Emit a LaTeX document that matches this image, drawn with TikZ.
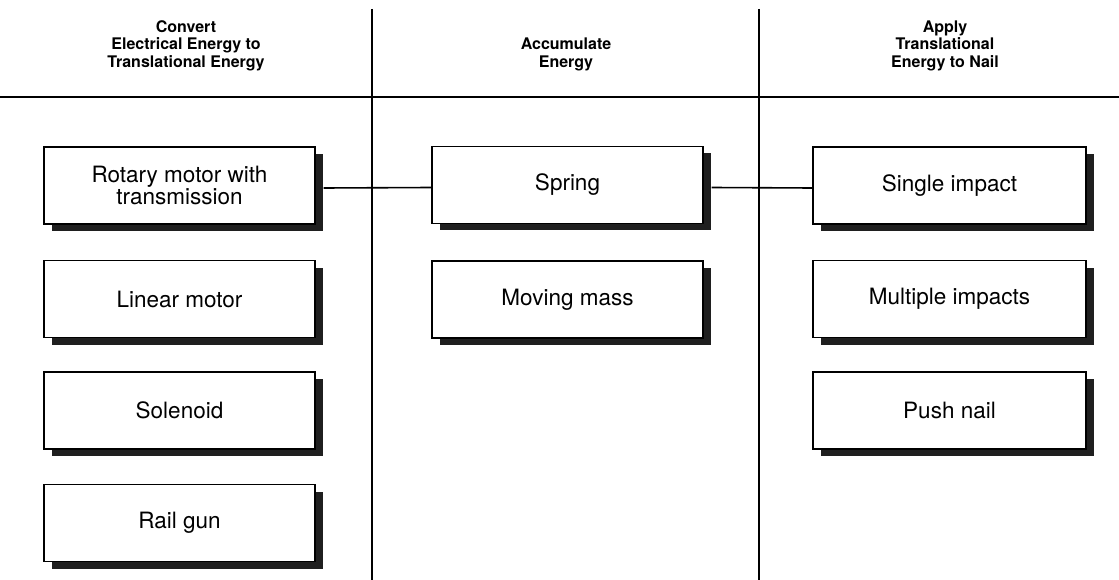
\documentclass[tikz,border=0pt]{standalone}
\usepackage{fontspec}
\setmainfont{TeX Gyre Heros}
\usetikzlibrary{shadows}
\begin{document}
\begin{tikzpicture}[x=1pt,y=-1pt,
  rule/.style={line width=1.3pt,black},
  hdr/.style={font=\bfseries\fontsize{16}{17.5}\selectfont,align=center,anchor=south,inner sep=0pt},
  pbox/.style={draw,line width=1.3pt,fill=white,rectangle,inner sep=0pt,minimum width=271pt,
    minimum height=77pt,align=center,font=\fontsize{22.5}{22}\selectfont,
    general shadow={fill=black!88,shadow xshift=8pt,shadow yshift=-7pt}},
  conn/.style={line width=1.6pt,black}]
\useasboundingbox (0,0) rectangle (1119,580);
% rules
\draw[rule] (0,97) -- (1119,97);
\draw[rule] (372,9) -- (372,580);
\draw[rule] (759,9) -- (759,580);
% headers
\node[hdr] (h1) at (186,71) {Convert\\Electrical Energy to\\Translational Energy};
\node[hdr] (h2) at (566,71) {Accumulate\\Energy};
\node[hdr] (h3) at (945,71) {Apply\\Translational\\Energy to Nail};
% column 1
\node[pbox] (rot) at (179.5,185.5) {Rotary motor with\\transmission};
\node[pbox] (lin) at (179.5,299) {Linear motor};
\node[pbox] (sol) at (179.5,410.5) {Solenoid};
\node[pbox] (rail) at (179.5,523) {Rail gun};
% column 2
\node[pbox] (spring) at (567.5,185) {Spring};
\node[pbox] (mass) at (567.5,299.5) {Moving mass};
% column 3
\node[pbox,minimum width=273pt] (single) at (949.5,185.5) {Single impact};
\node[pbox,minimum width=273pt] (multi) at (949.5,299) {Multiple impacts};
\node[pbox,minimum width=273pt] (push) at (949.5,410.5) {Push nail};
% connectors
\draw[conn] ([xshift=8pt,yshift=-2.5pt]rot.east) -- ([yshift=-2.5pt]spring.west);
\draw[conn] ([xshift=8pt,yshift=-2.5pt]spring.east) -- ([yshift=-2.5pt]single.west);
\end{tikzpicture}
\end{document}
